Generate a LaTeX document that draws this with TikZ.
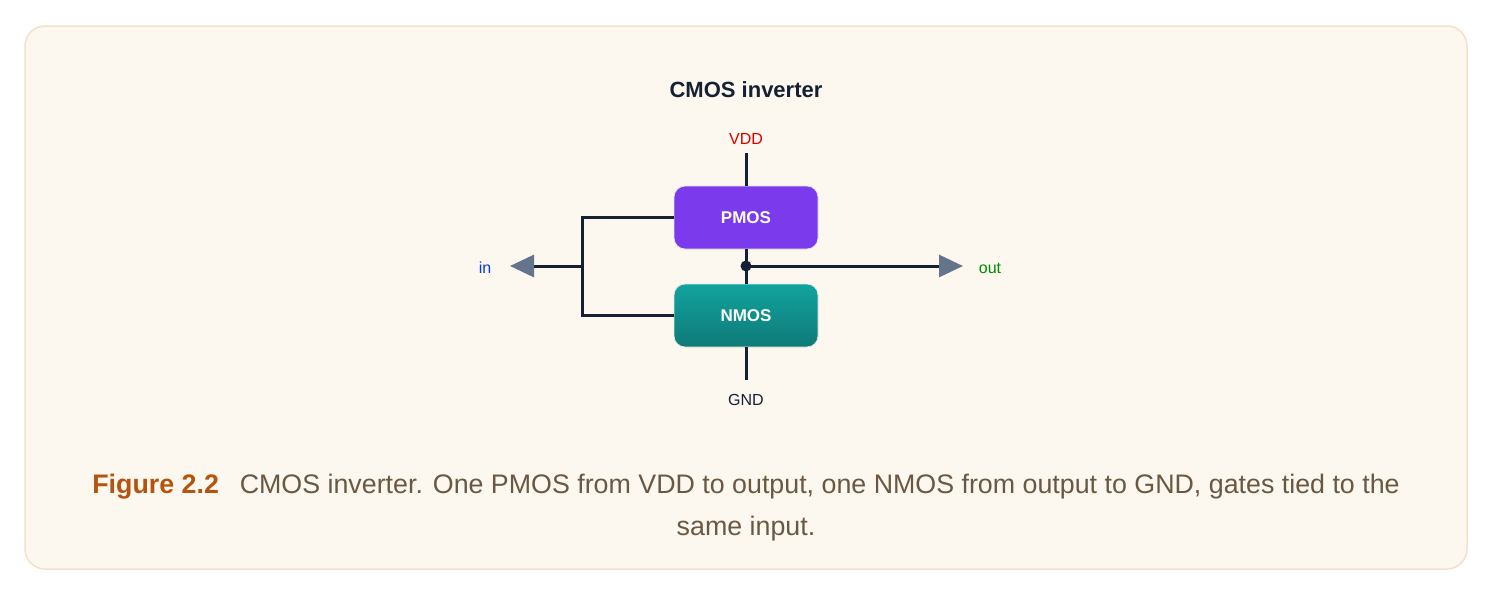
\documentclass[tikz,border=0pt]{standalone}
\usepackage{fontspec}
\setmainfont{Liberation Sans}
\usetikzlibrary{arrows.meta}
\definecolor{bg}{HTML}{FCF7EF}
\definecolor{frame}{HTML}{F0E2CB}
\definecolor{wire}{HTML}{152032}
\definecolor{tip}{HTML}{64748B}
\definecolor{pm}{HTML}{7B3AEC}
\definecolor{nmA}{HTML}{11A39E}
\definecolor{nmB}{HTML}{0F7A78}
\definecolor{capc}{HTML}{6B5843}
\definecolor{figc}{HTML}{B5540F}
\begin{document}
\begin{tikzpicture}[x=1pt,y=-1pt,
  box/.style={rounded corners=11pt,minimum width=144pt,minimum height=63pt,draw=white!80!gray,line width=0.8pt,text=white,font=\bfseries\fontsize{17}{19}\selectfont},
  w/.style={draw=wire,line width=3pt},
  arr/.style={w,-{Triangle[length=24pt,width=22pt,fill=tip,color=tip]}},
  lab/.style={font=\fontsize{16}{18}\selectfont}]
\useasboundingbox (0,0) rectangle (1494,597);
\fill[white] (0,0) rectangle (1494,597);
\draw[fill=bg,draw=frame,line width=1.5pt,rounded corners=20pt] (25,26) rectangle (1467,569);
\node[font=\bfseries\fontsize{22}{24}\selectfont,text=wire] (title) at (746,90) {CMOS inverter};
\node[box,fill=pm] (p) at (746,217.5) {PMOS};
\node[box,top color=nmA,bottom color=nmB] (n) at (746,315.5) {NMOS};
\node[lab,text=red!85!black] (vdd) at (746,139) {VDD};
\node[lab,text=wire] (gnd) at (746,400) {GND};
\node[lab,text=blue!75!cyan!90!black] (in) at (485,268) {in};
\node[lab,text=green!55!black] (out) at (990,268) {out};
\coordinate (vt) at (746,153);
\coordinate (gb) at (746,380);
\coordinate (m) at (746,266);
\coordinate (bus) at (582,266);
\coordinate (intip) at (510,266);
\coordinate (outtip) at (963,266);
\draw[w] (vt) -- (p.north);
\draw[w] (n.south) -- (gb);
\draw[w] (p.south) -- (n.north);
\draw[w] (p.west) -- (582,217.5) -- (582,315.5) -- (n.west);
\draw[arr] (bus) -- (intip);
\draw[arr] (m) -- (outtip);
\fill[wire] (m) circle (5.5pt);
\node[font=\fontsize{26.8}{42}\selectfont,text=capc,align=center] (cap) at (746,508)
 {{\color{figc}\bfseries Figure 2.2}\hspace{0.5em} CMOS inverter. One PMOS from VDD to output, one NMOS from output to GND, gates tied to the\\ same input.};
\end{tikzpicture}
\end{document}
